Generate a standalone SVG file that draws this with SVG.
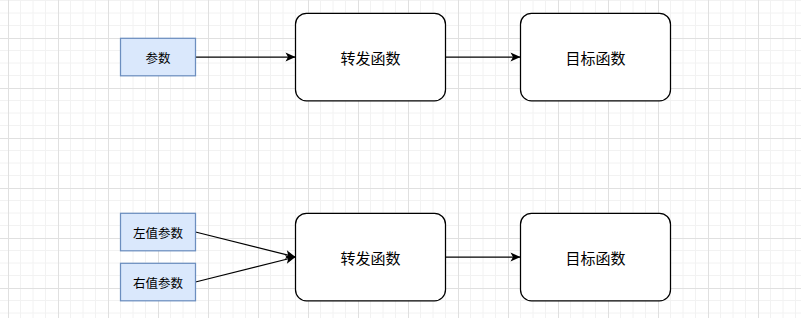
<svg xmlns="http://www.w3.org/2000/svg" width="801" height="318" viewBox="0 0 801 318">
  <defs>
    <pattern id="grid" patternUnits="userSpaceOnUse" x="8" y="38" width="50" height="50">
      <path d="M12.5,0 V50 M25,0 V50 M37.5,0 V50 M0,12.5 H50 M0,25 H50 M0,37.5 H50" stroke="#f2f2f2" stroke-width="1" fill="none"/>
      <path d="M0.5,0 V50 M0,0.5 H50" stroke="#e0e0e0" stroke-width="1" fill="none"/>
    </pattern>
    <marker id="arrow" markerUnits="userSpaceOnUse" markerWidth="12" markerHeight="10" viewBox="0 0 12 10" refX="11" refY="5" orient="auto">
      <path d="M1,0.6 L11,5 L1,9.4 L3.5,5 Z" fill="#000"/>
    </marker>
    <style>
      .param rect { fill: #dae8fc; stroke: #6c8ebf; stroke-width: 1.25; }
      .func rect { fill: #ffffff; stroke: #000000; stroke-width: 1.25; }
      .param text { font-family: "Noto Sans CJK SC", "Microsoft YaHei", sans-serif; font-size: 12.5px; fill: #000; text-anchor: middle; dominant-baseline: central; }
      .func text { font-family: "Noto Sans CJK SC", "Microsoft YaHei", sans-serif; font-size: 15px; fill: #000; text-anchor: middle; dominant-baseline: central; }
      .edge { stroke: #000; stroke-width: 1.25; fill: none; marker-end: url(#arrow); }
    </style>
  </defs>
  <rect x="0" y="0" width="801" height="318" fill="#ffffff"/>
  <rect x="0" y="0" width="801" height="318" fill="url(#grid)"/>

  <g id="connectors">
    <path class="edge" d="M195.5,57 L295.5,57"/>
    <path class="edge" d="M445.5,57 L520.5,57"/>
    <path class="edge" d="M195.5,232 L295.5,257"/>
    <path class="edge" d="M195.5,282 L295.5,257"/>
    <path class="edge" d="M445.5,257 L520.5,257"/>
  </g>

  <g id="param" class="param">
    <rect x="120.5" y="38.3" width="75" height="37.5"/>
    <text x="158" y="57">参数</text>
  </g>
  <g id="forward1" class="func">
    <rect x="295.5" y="13.3" width="150" height="87.5" rx="11" ry="11"/>
    <text x="370.5" y="57.5">转发函数</text>
  </g>
  <g id="target1" class="func">
    <rect x="520.5" y="13.3" width="150" height="87.5" rx="11" ry="11"/>
    <text x="595.5" y="57.5">目标函数</text>
  </g>

  <g id="lvalue" class="param">
    <rect x="120.5" y="213.3" width="75" height="37.5"/>
    <text x="158" y="232">左值参数</text>
  </g>
  <g id="rvalue" class="param">
    <rect x="120.5" y="263.3" width="75" height="37.5"/>
    <text x="158" y="282">右值参数</text>
  </g>
  <g id="forward2" class="func">
    <rect x="295.5" y="213.3" width="150" height="87.5" rx="11" ry="11"/>
    <text x="370.5" y="257.5">转发函数</text>
  </g>
  <g id="target2" class="func">
    <rect x="520.5" y="213.3" width="150" height="87.5" rx="11" ry="11"/>
    <text x="595.5" y="257.5">目标函数</text>
  </g>
</svg>
